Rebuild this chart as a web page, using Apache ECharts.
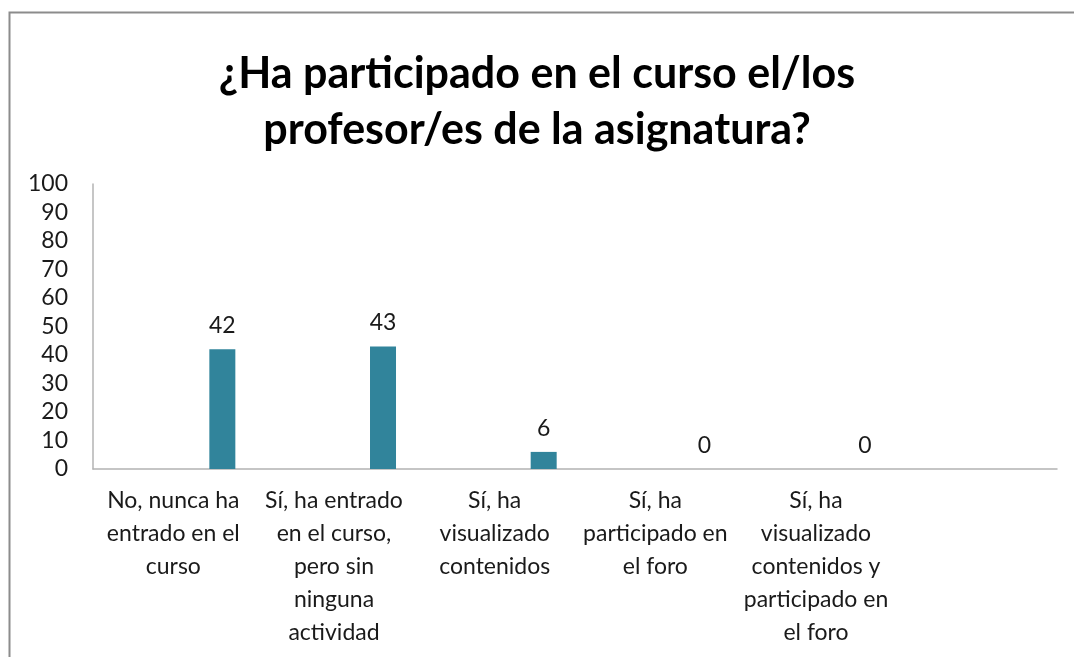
<!DOCTYPE html>
<html>
<head>
<meta charset="utf-8">
<script src="https://cdn.jsdelivr.net/npm/echarts@6/dist/echarts.min.js"></script>
<style>
html, body { margin: 0; padding: 0; background: #fff; }
#chart { width: 1074px; height: 657px; }
</style>
</head>
<body>
<div id="chart"></div>
<script>
// datos del gráfico
var categorias = [
    'No, nunca ha\nentrado en el\ncurso',
    'Sí, ha entrado\nen el curso,\npero sin\nninguna\nactividad',
    'Sí, ha\nvisualizado\ncontenidos',
    'Sí, ha\nparticipado en\nel foro',
    'Sí, ha\nvisualizado\ncontenidos y\nparticipado en\nel foro',
    ''
];
var valores = [42, 43, 6, 0, 0, '-'];
var vacio = ['-', '-', '-', '-', '-', '-'];
var ticksY = [0, 10, 20, 30, 40, 50, 60, 70, 80, 90, 100];

var fuente = 'Lato';
var chart = echarts.init(document.getElementById('chart'));
var option = {
    animation: false,
    // marco del gráfico
    graphic: [{
        type: 'rect',
        shape: { x: 9.5, y: 12.5, width: 1200, height: 800 },
        style: { fill: 'none', stroke: '#8c8c8c', lineWidth: 2 }
    }],
    title: {
        text: '¿Ha participado en el curso el/los\nprofesor/es de la asignatura?',
        left: 'center',
        top: 41,
        textStyle: {
            fontFamily: fuente,
            fontSize: 43,
            fontWeight: 'bold',
            lineHeight: 56,
            color: '#000'
        }
    },
    grid: { left: 93, right: 17, top: 184, bottom: 188 },
    xAxis: {
        type: 'category',
        data: categorias,
        axisLine: { lineStyle: { color: '#b3b3b3', width: 1.5 } },
        axisTick: { show: false },
        axisLabel: {
            interval: 0,
            margin: 15,
            fontFamily: fuente,
            fontSize: 23,
            lineHeight: 33,
            color: '#1a1a1a'
        }
    },
    yAxis: {
        type: 'value',
        min: ticksY[0],
        max: ticksY[ticksY.length - 1],
        interval: 10,
        splitLine: { show: false },
        axisLine: { show: true, lineStyle: { color: '#b3b3b3', width: 1.5 } },
        axisTick: { show: false },
        axisLabel: {
            margin: 25,
            fontFamily: fuente,
            fontSize: 23,
            color: '#1a1a1a'
        }
    },
    series: [{
        type: 'bar',
        data: vacio,
        barWidth: 26
    }, {
        type: 'bar',
        data: valores,
        barWidth: 26,
        barGap: '277%',
        itemStyle: { color: '#31849b' },
        label: {
            show: true,
            position: 'top',
            distance: 12,
            fontFamily: fuente,
            fontSize: 23,
            color: '#1a1a1a'
        }
    }]
};
chart.setOption(option);
</script>
</body>
</html>
